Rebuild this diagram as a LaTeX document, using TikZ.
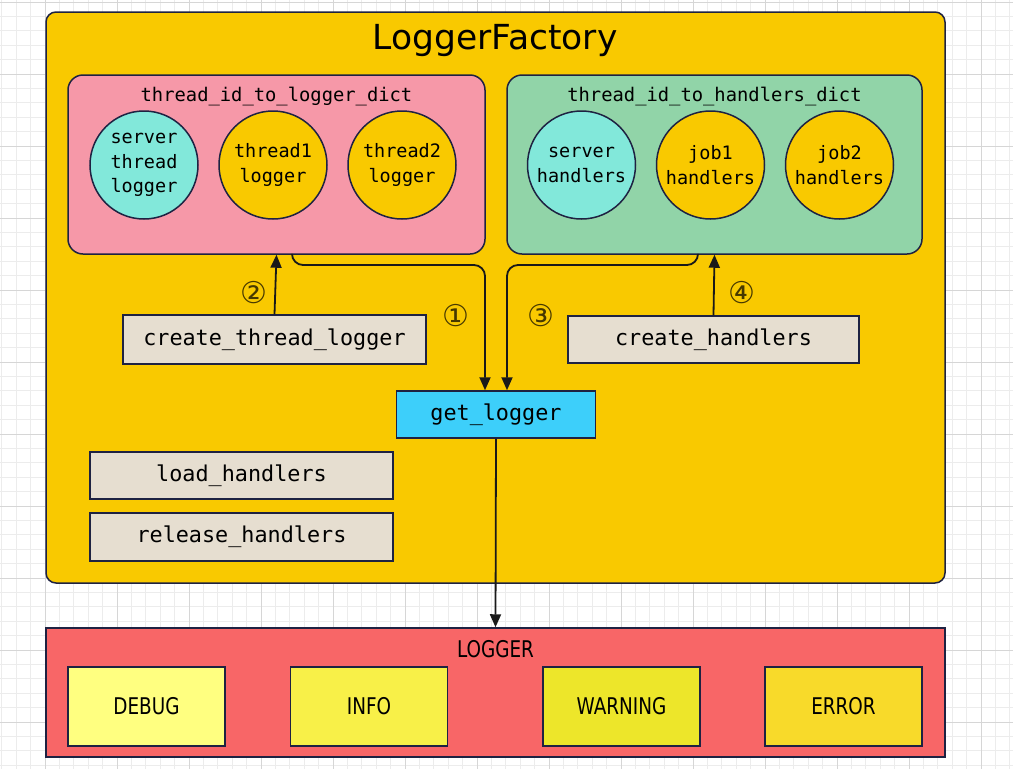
\documentclass[tikz,border=0pt]{standalone}
\usepackage{fontspec}
\setmainfont{DejaVu Sans}
\newfontfamily\monof{DejaVu Sans Mono}
\newfontfamily\condf[FakeStretch=0.8]{DejaVu Sans}
\newfontfamily\circf{DejaVu Sans}
\usetikzlibrary{arrows.meta}
\definecolor{gminorc}{RGB}{236,236,236}
\definecolor{gmajorc}{RGB}{214,214,214}
\definecolor{strokec}{RGB}{30,34,66}
\definecolor{factoryc}{RGB}{249,201,0}
\definecolor{pinkc}{RGB}{246,152,168}
\definecolor{greenc}{RGB}{145,212,168}
\definecolor{cyanc}{RGB}{130,232,218}
\definecolor{beigec}{RGB}{230,222,208}
\definecolor{bluec}{RGB}{61,207,250}
\definecolor{loggerc}{RGB}{248,102,103}
\definecolor{debugc}{RGB}{255,255,128}
\definecolor{infoc}{RGB}{248,240,72}
\definecolor{warnc}{RGB}{237,230,42}
\definecolor{errorc}{RGB}{248,218,42}
\definecolor{numc}{RGB}{70,56,0}
\begin{document}
\begin{tikzpicture}[x=1pt,y=-1pt,
  gminor/.style={draw=gminorc,line width=0.8pt},
  gmajor/.style={draw=gmajorc,line width=1pt},
  framebox/.style={draw=strokec,line width=1.5pt,fill=factoryc,rounded corners=10pt,inner sep=0pt},
  dictbox/.style={draw=strokec,line width=1.5pt,rounded corners=15pt,inner sep=0pt,minimum height=179pt},
  dtitle/.style={font=\monof\fontsize{18.8}{22}\selectfont,anchor=base,inner sep=0pt},
  circ/.style={circle,draw=strokec,line width=1.5pt,minimum size=108pt,inner sep=0pt,align=center,
    font=\monof\fontsize{18.5}{24.5}\selectfont},
  fnbox/.style={draw=strokec,line width=1.5pt,inner sep=0pt,font=\monof\fontsize{21.8}{24}\selectfont},
  lvlbox/.style={draw=strokec,line width=1.5pt,inner sep=0pt,minimum width=157pt,minimum height=79pt,
    font=\condf\fontsize{23}{26}\selectfont},
  conn/.style={draw=black!90,line width=1.8pt,-{Triangle[length=13pt,width=11pt]}},
  num/.style={font=\circf\fontsize{30}{30}\selectfont,text=numc,inner sep=0pt}]
\useasboundingbox (0,0) rectangle (1013,769);
\fill[white] (0,0) rectangle (1013,769);
% grid
\foreach \i in {0,...,70} \draw[gminor] ({1.8+14.4*\i},0) -- ({1.8+14.4*\i},769);
\foreach \j in {0,...,53} \draw[gminor] (0,{2+14.4*\j}) -- (1013,{2+14.4*\j});
\foreach \i in {0,...,13} \draw[gmajor] ({45+72*\i},0) -- ({45+72*\i},769);
\foreach \j in {0,...,10} \draw[gmajor] (0,{2+72*\j}) -- (1013,{2+72*\j});

% factory frame
\node[framebox,minimum width=899pt,minimum height=571pt] (factory) at (495.5,297.5) {};
\node[font=\fontsize{34.5}{40}\selectfont,anchor=base,inner sep=0pt] (title) at (495,49) {LoggerFactory};

% logger dict
\node[dictbox,fill=pinkc,minimum width=417pt] (tdl) at (276.5,164.5) {};
\node[dtitle] (tdltitle) at (276.5,101) {thread\_id\_to\_logger\_dict};
\node[circ,fill=cyanc] (c1) at (144,165) {server\\thread\\logger};
\node[circ,fill=factoryc] (c2) at (273,165) {thread1\\logger};
\node[circ,fill=factoryc] (c3) at (402,165) {thread2\\logger};

% handlers dict
\node[dictbox,fill=greenc,minimum width=415pt] (thd) at (714.5,164.5) {};
\node[dtitle] (thdtitle) at (714.5,101) {thread\_id\_to\_handlers\_dict};
\node[circ,fill=cyanc] (h1) at (581.5,165) {server\\handlers};
\node[circ,fill=factoryc] (h2) at (710.5,165) {job1\\handlers};
\node[circ,fill=factoryc] (h3) at (839.5,165) {job2\\handlers};

% function boxes
\node[fnbox,fill=beigec,minimum width=303pt,minimum height=49pt] (ctl) at (274.5,339.5) {create\_thread\_logger};
\node[fnbox,fill=beigec,minimum width=291pt,minimum height=47pt] (ch) at (713.5,339.5) {create\_handlers};
\node[fnbox,fill=bluec,minimum width=199pt,minimum height=47pt] (get) at (496,414.5) {get\_logger};
\node[fnbox,fill=beigec,minimum width=303pt,minimum height=47pt] (load) at (241.5,475.5) {load\_handlers};
\node[fnbox,fill=beigec,minimum width=303pt,minimum height=48pt] (rel) at (241.5,537) {release\_handlers};

% connectors
\coordinate (j1) at (485,265);
\coordinate (j3) at (507,265);
\draw[conn] (ctl.north) -- (tdl.south);
\draw[conn] (ch.north) -- (thd.south);
\draw[conn,rounded corners=11pt] ([xshift=15.5pt]tdl.south) |- (j1) -- ([xshift=-11pt]get.north);
\draw[conn,rounded corners=11pt] ([xshift=-16.5pt]thd.south) |- (j3) -- ([xshift=11pt]get.north);

\node[num] (n1) at (456,316) {①};
\node[num] (n2) at (254,293) {②};
\node[num] (n3) at (541,316) {③};
\node[num] (n4) at (742,293) {④};

% logger
\node[draw=strokec,line width=1.5pt,fill=loggerc,minimum width=899pt,minimum height=129pt,inner sep=0pt] (logger) at (495.5,692.5) {};
\node[font=\condf\fontsize{23}{26}\selectfont,anchor=base,inner sep=0pt] (loggertitle) at (495.5,657) {LOGGER};
\node[lvlbox,fill=debugc] (debug) at (146.5,706.5) {DEBUG};
\node[lvlbox,fill=infoc] (info) at (369,706.5) {INFO};
\node[lvlbox,fill=warnc] (warning) at (621.5,706.5) {WARNING};
\node[lvlbox,fill=errorc] (error) at (843.5,706.5) {ERROR};

\draw[conn] (get.south) -- (logger.north);
\end{tikzpicture}
\end{document}
